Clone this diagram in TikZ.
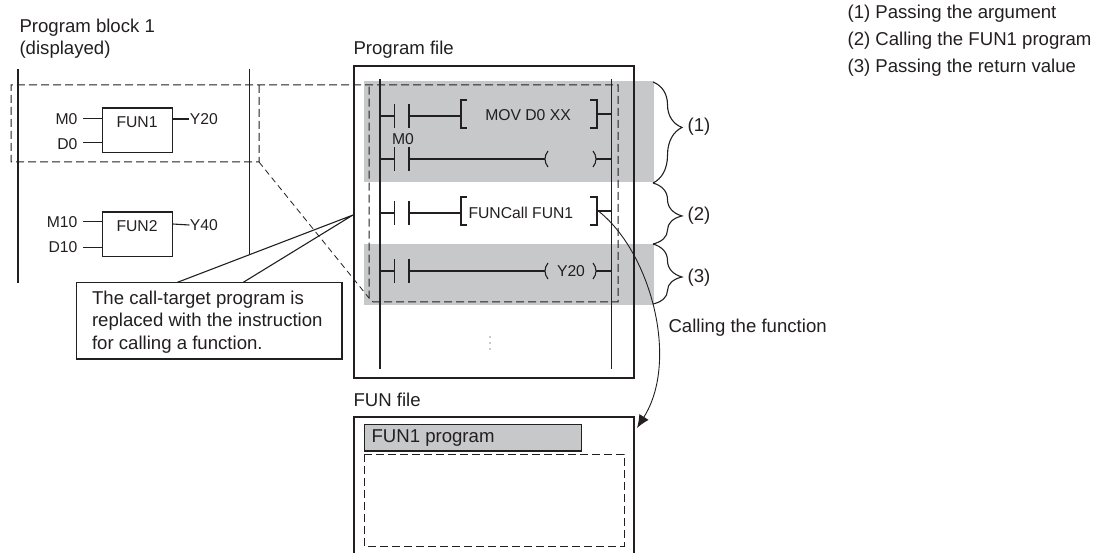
\documentclass[tikz,border=0pt]{standalone}
\usepackage{fontspec}
\setmainfont{Liberation Sans}
\usetikzlibrary{decorations.pathreplacing,positioning,arrows.meta}
\definecolor{bandgray}{HTML}{C7C8CA}
\definecolor{inkgray}{HTML}{231F20}
\tikzset{
  every node/.style={text=inkgray,font=\fontsize{15.7}{19}\selectfont},
  every path/.style={line width=1.1pt},
  label/.style={inner sep=0pt,anchor=west},
  big/.style={font=\fontsize{18.6}{22.4}\selectfont},
  fbox/.style={draw,minimum width=70.5pt,minimum height=44.5pt,inner sep=0pt},
  dashbox/.style={dash pattern=on 8pt off 4pt,line width=1pt},
  band/.style={fill=bandgray,draw=none},
  curly/.style={decorate,decoration={brace,amplitude=29pt}},
}
\begin{document}
\begin{tikzpicture}[x=1pt,y=-1pt,color=inkgray]
    \useasboundingbox (0,0) rectangle (1095,553);
    % legend
    \node[label,big] (legend1) at (847,14) {(1) Passing the argument};
    \node[label,big] (legend2) at (847,41) {(2) Calling the FUN1 program};
    \node[label,big] (legend3) at (847,68) {(3) Passing the return value};
    % program block
    \node[label,big,align=left] (blocktitle) at (19,38.5) {Program block 1\\(displayed)};
    \draw (18,69) -- (18,283);
    \draw (249.5,69) -- (249.5,254);
    \node[fbox] (fun1) at (137.5,130.3) {};
    \node[inner sep=0pt] at (137,121.7) {FUN1};
    \node[fbox] (fun2) at (137.5,234.3) {};
    \node[inner sep=0pt] at (137,225.7) {FUN2};
    \node[label,anchor=east] (m0) at (78,119) {M0};
    \node[label,anchor=east] (d0) at (78,144) {D0};
    \node[label,anchor=east] (m10) at (78,222) {M10};
    \node[label,anchor=east] (d10) at (78,247) {D10};
    \node[label] (y20) at (189.3,119) {Y20};
    \node[label] (y40) at (189.3,225) {Y40};
    \draw (m0.east) ++(5,-.7) -- ++(19,0);
    \draw (d0.east) ++(5,-1.3) -- ++(19,0);
    \draw (m10.east) ++(5,-.3) -- ++(19,0);
    \draw (d10.east) ++(5,.3) -- ++(19,0);
    \draw (172.7,119) -- (y20.west);
    \draw (172.7,224) -- (y40.west);
    % gray bands
    \fill[band] (364,81) rectangle (654,182);
    \fill[band] (364,244) rectangle (654,305);
    % program file
    \node[label,big] (filetitle) at (353,50) {Program file};
    \draw[line width=2pt] (354,66) rectangle (634,378);
    \draw (380,79) -- (380,369);
    \draw (611.5,79) -- (611.5,369);
    % rungs
    \foreach \y/\h in {116/12,159/12,213/12,271/12} {
      \draw (380,\y) -- (394.5,\y);
      \draw[line width=1.4pt] (394.5,\y-\h) -- (394.5,\y+\h);
      \draw[line width=1.4pt] (409,\y-\h) -- (409,\y+\h);
    }
    \draw (409,116) -- (461,116);
    \draw (409,213) -- (461,213);
    \draw (409,159) -- (545,159);
    \draw (409,271) -- (545,271);
    \draw[line width=1.6pt] (436,159) -- (461,159);
    \draw[line width=1.6pt] (436,271) -- (461,271);
    \foreach \y in {100,197} {
      \draw (467,\y) -- (461,\y) -- (461,\y+28) -- (467,\y+28);
      \draw (590,\y) -- (597,\y) -- (597,\y+28) -- (590,\y+28);
      \draw (597,\y+14) -- (611.5,\y+14);
    }
    \foreach \y in {159,271} {
      \draw (548,\y-8) .. controls (544,\y-3) and (544,\y+3) .. (548,\y+8);
      \draw (593,\y-8) .. controls (597,\y-3) and (597,\y+3) .. (593,\y+8);
      \draw (596,\y) -- (611.5,\y);
    }
    \node[inner sep=0pt] (movtext) at (528,115) {MOV D0 XX};
    \node[inner sep=0pt] (m0contact) at (403,139) {M0};
    \node[label] (funcall) at (468,213) {FUNCall FUN1};
    \node[inner sep=0pt] (y20coil) at (571,271) {Y20};
    \foreach \y in {337,343,349} \fill (490,\y) circle (.7pt);
    % dashed frames
    \draw[dashbox] (259,85) -- (259,162) -- (11,162) -- (11,85) -- (618,85) -- (618,302) -- (373,302) -- (369,298) -- (369,85);
    \draw[dash pattern=on 6pt off 4pt,line width=.8pt] (259,162) -- (369,298);
    % callout
    \draw (177,282.5) -- (353,215) -- (243,282.5);
    \node[draw,fill=white,inner sep=0pt,minimum width=265.3pt,minimum height=76.5pt] (callout) at (209.3,320.75) {};
    \node[label,big,align=left] (callouttext) at (91.5,322) {The call-target program is\\replaced with the instruction\\for calling a function.};
    % braces
    \draw[curly,decoration={aspect=.45}] (653,82) -- (653,183);
    \draw[curly,decoration={aspect=.54}] (653,183) -- (653,244);
    \draw[curly,decoration={aspect=.55}] (653,244) -- (653,304);
    \node[label,big] (one) at (687,127) {(1)};
    \node[label,big] (two) at (687,216) {(2)};
    \node[label,big] (three) at (687,278) {(3)};
    % fun file
    \node[label,big] (funtitle) at (353,400) {FUN file};
    \draw (354,553) -- (354,417) -- (634,417) -- (634,553);
    \node[draw,fill=bandgray,label,minimum width=217.5pt,minimum height=26.5pt,inner sep=0pt] (funprog) at (363.5,437.75) {};
    \node[label,big] (funprogtext) at (371,437.75) {FUN1 program};
    \draw[dashbox] (364,454) rectangle (624,546);
    % call arrow
    \coordinate (callstart) at (597,210);
    \coordinate (callend) at (637,428);
    \draw[-{Latex[length=13pt,width=11pt]},line width=.9pt] (callstart) .. controls (650,250) and (680,360) .. (callend);
    \node[label,big] (calltext) at (668,328) {Calling the function};
\end{tikzpicture}
\end{document}
